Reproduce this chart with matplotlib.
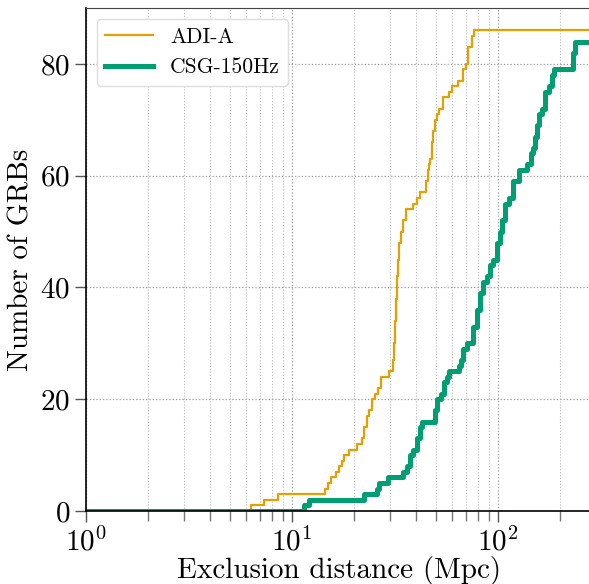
import matplotlib
matplotlib.use("Agg")
import matplotlib.pyplot as plt
from matplotlib.ticker import LogLocator, NullFormatter

plt.rcParams['font.family'] = 'serif'
plt.rcParams['font.serif'] = ['cmr10']
plt.rcParams['mathtext.fontset'] = 'cm'
plt.rcParams['axes.formatter.use_mathtext'] = True

# Data: distance (Mpc) at which the cumulative count reaches the value
adi_dist = [6.32, 7.31, 8.55, 14.46, 14.96, 15.47, 16.35, 16.91, 17.48, 17.88,
            18.91, 20.68, 21.87, 22.24, 23.13, 23.65, 24.32, 25.29, 26.16, 27.04,
            29.41, 30.93, 31.27, 31.62, 31.98, 32.34, 32.70, 33.07, 33.71, 34.47,
            35.76, 38.67, 40.45, 41.83, 44.72, 45.48, 45.99, 46.77, 47.56, 48.36,
            49.45, 50.40, 51.88, 53.90, 58.01, 59.59, 63.74, 67.86, 69.70, 71.75,
            74.52, 76.47]
adi_count = [1, 2, 3, 4, 5, 6, 7, 8, 9, 10,
             11, 12, 13, 15, 17, 18, 20, 21, 22, 24,
             25, 27, 30, 34, 38, 42, 45, 48, 50, 52,
             54, 55, 56, 57, 59, 61, 62, 63, 66, 68,
             70, 71, 72, 74, 75, 76, 77, 79, 80, 83,
             85, 86]

csg_dist = [11.43, 12.09, 22.36, 25.77, 26.53, 29.35, 34.70, 36.05, 37.40, 38.80,
            40.30, 41.83, 42.63, 49.45, 50.74, 52.71, 54.70, 56.36, 58.01, 64.88,
            66.35, 67.86, 70.72, 75.62, 78.82, 81.78, 84.85, 88.14, 91.47, 94.90,
            98.56, 102.26, 104.57, 108.14, 113.45, 117.85, 126.90, 137.85, 144.15, 148.43,
            151.25, 154.66, 158.70, 162.99, 169.14, 177.46, 182.27, 187.65, 230.5, 235.2]
csg_count = [1, 2, 3, 4, 5, 6, 7, 8, 10, 11,
             13, 15, 16, 18, 20, 21, 23, 24, 25, 26,
             27, 29, 30, 33, 36, 39, 41, 42, 44, 45,
             48, 50, 52, 55, 56, 59, 61, 62, 64, 65,
             67, 69, 71, 72, 75, 76, 78, 79, 82, 84]

xmin, xmax = 1, 286

fig = plt.figure(figsize=(5.89, 5.84), dpi=100)
ax = fig.add_axes([86 / 589, 73 / 584, 506 / 589, 503 / 584])

ax.step([xmin] + adi_dist + [xmax], [0] + adi_count + [adi_count[-1]],
        where='post', color='#E69F00', lw=1.6, label='ADI-A')
ax.step([xmin] + csg_dist + [xmax], [0] + csg_count + [csg_count[-1]],
        where='post', color='#009E73', lw=3.6, label='CSG-150Hz')

ax.set_xscale('log')
ax.set_xlim(xmin, xmax)
ax.set_ylim(0, 90)
ax.set_yticks([0, 20, 40, 60, 80])
ax.xaxis.set_minor_locator(LogLocator(base=10, subs=range(2, 10)))
ax.xaxis.set_minor_formatter(NullFormatter())

ax.grid(True, which='major', axis='both', ls=':', color='#999999', lw=0.9)
ax.grid(True, which='minor', axis='x', ls=':', color='#bbbbbb', lw=0.8)
ax.set_axisbelow(True)

ax.tick_params(axis='both', which='major', direction='out', length=8, width=1,
               color='#555555', labelsize=21, top=False, right=False)
ax.tick_params(axis='x', which='minor', direction='out', length=7, width=1,
               color='#777777', top=False)
ax.spines['right'].set_visible(False)
ax.spines['top'].set_color('#444444')
for s in ['left', 'bottom']:
    ax.spines[s].set_color('black')
    ax.spines[s].set_linewidth(1.2)

ax.set_xlabel('Exclusion distance (Mpc)', fontsize=21, labelpad=0)
ax.set_ylabel('Number of GRBs', fontsize=21, labelpad=4)

ax.legend(loc='upper left', fontsize=15.5, handlelength=2.2, framealpha=1,
          edgecolor='#dddddd', borderaxespad=0.5)

fig.savefig('out.png', dpi=100)
